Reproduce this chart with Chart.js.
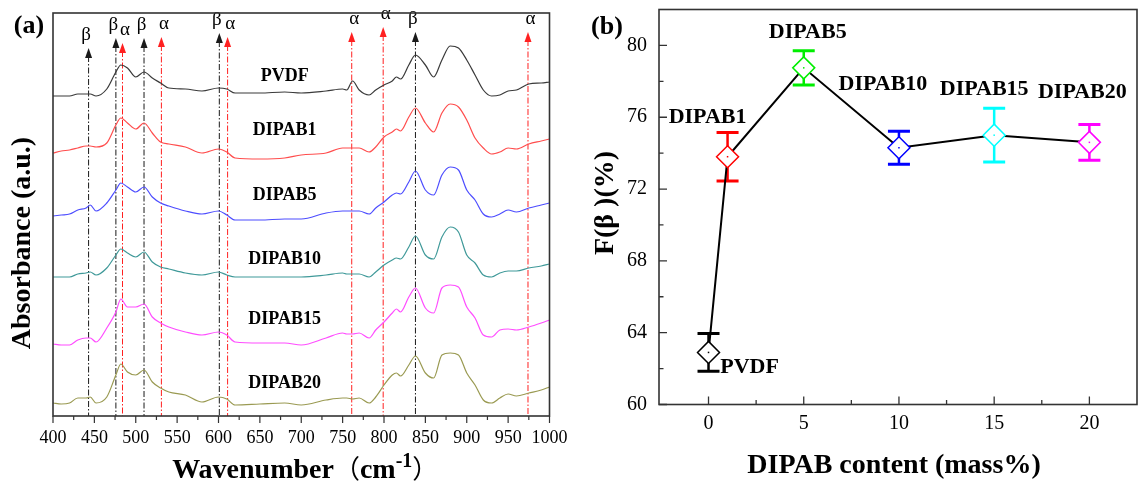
<!DOCTYPE html>
<html>
<head>
<meta charset="utf-8">
<script src="https://cdn.jsdelivr.net/npm/chart.js@4.4.1/dist/chart.umd.min.js"></script>
<style>
  html, body { margin: 0; padding: 0; background: #fff; }
  body { width: 1144px; height: 484px; position: relative; overflow: hidden; }
  canvas { position: absolute; top: 0; }
  #ftir { left: 0; }
  #fbeta { left: 572px; }
</style>
</head>
<body>
<canvas id="ftir" width="572" height="484"></canvas>
<canvas id="fbeta" width="572" height="484"></canvas>
<script>
// === (a) FTIR spectra, absorbance (a.u., stacked) ===
const wavenumbers = [400, 410, 420, 430, 440, 445, 452, 465, 476, 482, 490, 500, 510, 520, 530, 540,
  560, 580, 600, 610, 620, 650, 680, 700, 730, 750, 755, 762, 770, 782, 790, 800,
  810, 815, 820, 830, 838, 850, 860, 870, 880, 890, 900, 910, 920, 930, 940, 950,
  960, 975, 990, 1000];

const specPVDF = [3.20, 3.20, 3.20, 3.22, 3.22, 3.22, 3.20, 3.27, 3.44, 3.51, 3.48, 3.39, 3.44, 3.38, 3.33, 3.28,
  3.27, 3.25, 3.28, 3.27, 3.23, 3.23, 3.24, 3.23, 3.25, 3.27, 3.26, 3.35, 3.26, 3.21, 3.26, 3.31,
  3.35, 3.39, 3.37, 3.51, 3.61, 3.51, 3.39, 3.56, 3.70, 3.68, 3.56, 3.41, 3.26, 3.20, 3.21, 3.25,
  3.26, 3.32, 3.33, 3.34];
const specDIPAB1 = [2.63, 2.65, 2.66, 2.68, 2.70, 2.70, 2.69, 2.73, 2.91, 2.98, 2.93, 2.87, 2.93, 2.83, 2.74, 2.72,
  2.69, 2.63, 2.67, 2.64, 2.58, 2.57, 2.58, 2.61, 2.63, 2.68, 2.68, 2.68, 2.68, 2.64, 2.69, 2.79,
  2.84, 2.87, 2.85, 2.99, 3.08, 2.93, 2.84, 3.03, 3.12, 3.09, 2.96, 2.78, 2.68, 2.62, 2.64, 2.68,
  2.67, 2.72, 2.75, 2.77];
const specDIPAB5 = [2.00, 2.01, 2.02, 2.06, 2.08, 2.11, 2.05, 2.13, 2.26, 2.33, 2.29, 2.24, 2.29, 2.19, 2.13, 2.10,
  2.05, 2.02, 2.05, 2.01, 1.96, 1.96, 1.97, 1.97, 2.03, 2.05, 2.05, 2.05, 2.05, 2.02, 2.08, 2.14,
  2.21, 2.23, 2.22, 2.34, 2.45, 2.26, 2.21, 2.41, 2.49, 2.46, 2.26, 2.16, 2.02, 1.99, 2.02, 2.06,
  2.04, 2.08, 2.11, 2.13];
const specDIPAB10 = [1.39, 1.39, 1.39, 1.42, 1.43, 1.44, 1.41, 1.48, 1.61, 1.67, 1.63, 1.59, 1.64, 1.54, 1.49, 1.47,
  1.43, 1.41, 1.44, 1.41, 1.39, 1.39, 1.39, 1.39, 1.41, 1.43, 1.42, 1.42, 1.42, 1.39, 1.44, 1.51,
  1.56, 1.58, 1.57, 1.69, 1.80, 1.61, 1.57, 1.79, 1.89, 1.84, 1.61, 1.53, 1.41, 1.39, 1.43, 1.45,
  1.45, 1.48, 1.50, 1.52];
const specDIPAB15 = [0.72, 0.71, 0.71, 0.76, 0.78, 0.78, 0.74, 0.88, 1.04, 1.17, 1.09, 1.09, 1.12, 0.99, 0.93, 0.89,
  0.84, 0.81, 0.84, 0.81, 0.74, 0.73, 0.73, 0.71, 0.78, 0.83, 0.82, 0.82, 0.83, 0.78, 0.86, 0.94,
  1.03, 1.07, 1.04, 1.19, 1.28, 1.08, 1.03, 1.28, 1.31, 1.29, 1.09, 0.98, 0.81, 0.79, 0.86, 0.87,
  0.86, 0.89, 0.93, 0.96];
const specDIPAB20 = [0.13, 0.12, 0.13, 0.18, 0.18, 0.19, 0.13, 0.19, 0.41, 0.52, 0.44, 0.41, 0.46, 0.34, 0.28, 0.24,
  0.21, 0.14, 0.19, 0.17, 0.11, 0.12, 0.13, 0.11, 0.16, 0.18, 0.18, 0.17, 0.18, 0.13, 0.19, 0.31,
  0.41, 0.43, 0.40, 0.51, 0.60, 0.43, 0.38, 0.61, 0.63, 0.61, 0.43, 0.31, 0.16, 0.13, 0.18, 0.22,
  0.20, 0.23, 0.26, 0.29];

const specNames = ['PVDF', 'DIPAB1', 'DIPAB5', 'DIPAB10', 'DIPAB15', 'DIPAB20'];

// characteristic bands (cm-1) and phase
const bandWn = [443, 476, 484, 510, 531, 601, 611, 761, 799, 838, 974];
const bandPhase = ['β', 'β', 'α', 'β', 'α', 'β', 'α', 'α', 'α', 'β', 'α'];

const wnTicks = [400, 450, 500, 550, 600, 650, 700, 750, 800, 850, 900, 950, 1000];

// === (b) beta fraction ===
const samples = ['PVDF', 'DIPAB1', 'DIPAB5', 'DIPAB10', 'DIPAB15', 'DIPAB20'];
const dipabContent = [0, 1, 5, 10, 15, 20];
const fBeta = [62.9, 73.8, 78.75, 74.3, 75.0, 74.6];
const fBetaErr = [1.05, 1.35, 0.95, 0.92, 1.5, 1.0];
const contentTicks = [0, 5, 10, 15, 20];
const fBetaTicks = [60, 64, 68, 72, 76, 80];

// --- styles ---
const SERIF = '"Liberation Serif", "Times New Roman", serif';
const CJK = '"Noto Sans CJK SC", sans-serif';
const specColors = ['#3a3a3a', '#ff4d4d', '#4d4dff', '#3f9999', '#ff4dff', '#9a9a52'];
const sampleColors = ['#000000', '#ff0000', '#00ee00', '#0000ff', '#00ffff', '#ff00ff'];
// arrow tip height (a.u.) above each band line
const bandArrowTop = [3.68, 3.78, 3.73, 3.78, 3.79, 3.83, 3.79, 3.84, 3.89, 3.84, 3.84];
const specLabelAt = { wn: 680, y: [3.40, 2.86, 2.21, 1.57, 0.97, 0.33] };
// label offsets (px) from each point in (b)
const sampleLabelOffset = [[41, 15], [-20, -39], [4, -36], [-16, -63], [-10, -46], [-7, -50]];

function midpoints(arr) {
  const out = [];
  for (let i = 0; i < arr.length - 1; i++) out.push((arr[i] + arr[i + 1]) / 2);
  return out;
}

function frame(ctx, a, w) {
  ctx.save();
  ctx.strokeStyle = '#333';
  ctx.lineWidth = w;
  ctx.strokeRect(a.left, a.top, a.right - a.left, a.bottom - a.top);
  ctx.restore();
}

// fixed axis boxes so the plot area sits where the figure has it
function fixX(h) {
  return s => { s.height = h; s.paddingLeft = 0; s.paddingRight = 0; };
}
function fixY(w) {
  return s => { s.width = w; s.paddingTop = 0; s.paddingBottom = 0; };
}

// ---------- panel (a) decorations ----------
const ftirDecor = {
  id: 'ftirDecor',
  beforeDatasetsDraw(chart) {
    const { ctx, chartArea: a } = chart;
    const xs = chart.scales.x, ys = chart.scales.y;
    ctx.save();
    bandWn.forEach((w, i) => {
      const px = xs.getPixelForValue(w);
      const top = ys.getPixelForValue(bandArrowTop[i]);
      const col = bandPhase[i] === 'α' ? '#ff2020' : '#1a1a1a';
      ctx.strokeStyle = col;
      ctx.lineWidth = 1;
      ctx.setLineDash([6, 2, 1.5, 2]);
      ctx.beginPath();
      ctx.moveTo(px, top + 8);
      ctx.lineTo(px, a.bottom);
      ctx.stroke();
      ctx.setLineDash([]);
      ctx.fillStyle = col;
      ctx.beginPath();
      ctx.moveTo(px, top);
      ctx.lineTo(px - 3.5, top + 10);
      ctx.lineTo(px + 3.5, top + 10);
      ctx.closePath();
      ctx.fill();
      ctx.fillStyle = '#000';
      ctx.font = '19px ' + SERIF;
      ctx.textAlign = 'center';
      ctx.textBaseline = 'alphabetic';
      ctx.fillText(bandPhase[i], px + (bandPhase[i] === 'α' ? 2.5 : -2.5), top - 8);
    });
    ctx.restore();
  },
  afterDraw(chart) {
    const { ctx, chartArea: a } = chart;
    const xs = chart.scales.x, ys = chart.scales.y;
    frame(ctx, a, 1.6);
    ctx.save();
    // ticks (outward)
    ctx.strokeStyle = '#333';
    ctx.lineWidth = 1.2;
    ctx.beginPath();
    wnTicks.forEach(v => { const p = xs.getPixelForValue(v); ctx.moveTo(p, a.bottom); ctx.lineTo(p, a.bottom + 7); });
    midpoints(wnTicks).forEach(v => { const p = xs.getPixelForValue(v); ctx.moveTo(p, a.bottom); ctx.lineTo(p, a.bottom + 4); });
    ctx.stroke();

    // sample names
    ctx.fillStyle = '#000';
    ctx.font = 'bold 18px ' + SERIF;
    ctx.textAlign = 'center';
    ctx.textBaseline = 'middle';
    specNames.forEach((n, i) => {
      ctx.fillText(n, xs.getPixelForValue(specLabelAt.wn), ys.getPixelForValue(specLabelAt.y[i]));
    });

    // panel tag
    ctx.font = 'bold 26px ' + SERIF;
    ctx.fillText('(a)', 29, 26);

    // y title
    ctx.save();
    ctx.translate(23, 243);
    ctx.rotate(-Math.PI / 2);
    ctx.font = 'bold 28px ' + SERIF;
    ctx.fillText('Absorbance (a.u.)', 0, 0);
    ctx.restore();

    // x title with superscript
    const parts = [
      { t: 'Wavenumber', f: 'bold 28px ' + SERIF, dy: 0 },
      { t: '（', f: '26px ' + CJK, dy: 0 },
      { t: 'cm', f: 'bold 28px ' + SERIF, dy: 0 },
      { t: '-1', f: 'bold 20px ' + SERIF, dy: -11 },
      { t: '）', f: '26px ' + CJK, dy: 0 }
    ];
    let total = 0;
    parts.forEach(p => { ctx.font = p.f; p.w = ctx.measureText(p.t).width; total += p.w; });
    let x = (a.left + a.right) / 2 + 4 - total / 2;
    ctx.textAlign = 'left';
    ctx.textBaseline = 'alphabetic';
    parts.forEach(p => { ctx.font = p.f; ctx.fillText(p.t, x, 478 + p.dy); x += p.w; });
    ctx.restore();
  }
};

new Chart(document.getElementById('ftir'), {
  type: 'line',
  data: {
    datasets: [specPVDF, specDIPAB1, specDIPAB5, specDIPAB10, specDIPAB15, specDIPAB20].map((s, i) => ({
      label: specNames[i],
      data: wavenumbers.map((w, j) => ({ x: w, y: s[j] })),
      borderColor: specColors[i],
      borderWidth: 1.2,
      pointRadius: 0,
      cubicInterpolationMode: 'monotone',
      fill: false
    }))
  },
  options: {
    responsive: false,
    animation: false,
    layout: { autoPadding: false, padding: { left: 53, top: 13, right: 22.5, bottom: 28 } },
    plugins: { legend: { display: false }, tooltip: { enabled: false } },
    scales: {
      x: {
        type: 'linear', min: 400, max: 1000,
        afterBuildTicks: s => { s.ticks = wnTicks.map(v => ({ value: v })); },
        afterFit: fixX(40),
        grid: { display: false, drawTicks: false },
        border: { display: false },
        ticks: { font: { family: SERIF, size: 18 }, color: '#000', padding: 11, maxRotation: 0, autoSkip: false,
          callback: v => String(v) }
      },
      y: { display: false, min: 0, max: 4.03 }
    }
  },
  plugins: [ftirDecor]
});

// ---------- panel (b) decorations ----------
const fbetaDecor = {
  id: 'fbetaDecor',
  beforeDatasetsDraw(chart) {
    const { ctx } = chart;
    const xs = chart.scales.x, ys = chart.scales.y;
    ctx.save();
    dipabContent.forEach((c, i) => {
      const px = xs.getPixelForValue(c);
      const hi = ys.getPixelForValue(fBeta[i] + fBetaErr[i]);
      const lo = ys.getPixelForValue(fBeta[i] - fBetaErr[i]);
      ctx.strokeStyle = sampleColors[i];
      ctx.lineWidth = 2.5;
      ctx.beginPath();
      ctx.moveTo(px, hi); ctx.lineTo(px, lo);
      ctx.stroke();
      ctx.lineWidth = 3;
      ctx.beginPath();
      ctx.moveTo(px - 11, hi); ctx.lineTo(px + 11, hi);
      ctx.moveTo(px - 11, lo); ctx.lineTo(px + 11, lo);
      ctx.stroke();
    });
    ctx.restore();
  },
  afterDatasetsDraw(chart) {
    const { ctx } = chart;
    const xs = chart.scales.x, ys = chart.scales.y;
    ctx.save();
    dipabContent.forEach((c, i) => {
      const px = xs.getPixelForValue(c), py = ys.getPixelForValue(fBeta[i]);
      ctx.fillStyle = sampleColors[i];
      ctx.fillRect(px - 0.75, py - 0.75, 1.5, 1.5);
      ctx.fillStyle = '#000';
      ctx.font = 'bold 22px ' + SERIF;
      ctx.textAlign = 'center';
      ctx.textBaseline = 'middle';
      ctx.fillText(samples[i], px + sampleLabelOffset[i][0], py + sampleLabelOffset[i][1]);
    });
    ctx.restore();
  },
  afterDraw(chart) {
    const { ctx, chartArea: a } = chart;
    const xs = chart.scales.x, ys = chart.scales.y;
    frame(ctx, a, 1.6);
    ctx.save();
    ctx.strokeStyle = '#333';
    ctx.lineWidth = 1.3;
    ctx.beginPath();
    contentTicks.forEach(v => { const p = xs.getPixelForValue(v); ctx.moveTo(p, a.bottom); ctx.lineTo(p, a.bottom - 8); });
    midpoints(contentTicks).forEach(v => { const p = xs.getPixelForValue(v); ctx.moveTo(p, a.bottom); ctx.lineTo(p, a.bottom - 4.5); });
    fBetaTicks.forEach(v => { const p = ys.getPixelForValue(v); ctx.moveTo(a.left, p); ctx.lineTo(a.left + 8, p); });
    midpoints(fBetaTicks).forEach(v => { const p = ys.getPixelForValue(v); ctx.moveTo(a.left, p); ctx.lineTo(a.left + 4.5, p); });
    ctx.stroke();

    ctx.fillStyle = '#000';
    ctx.textAlign = 'center';
    ctx.textBaseline = 'middle';
    ctx.font = 'bold 26px ' + SERIF;
    ctx.fillText('(b)', 35, 27);

    ctx.save();
    ctx.translate(34, 203);
    ctx.rotate(-Math.PI / 2);
    ctx.font = 'bold 28px ' + SERIF;
    ctx.fillText('F(β )(%)', 0, 0);
    ctx.restore();

    ctx.font = 'bold 28px ' + SERIF;
    ctx.textBaseline = 'alphabetic';
    ctx.fillText('DIPAB content (mass%)', 322, 473);
    ctx.restore();
  }
};

new Chart(document.getElementById('fbeta'), {
  type: 'line',
  data: {
    datasets: [{
      label: 'F(β)',
      data: dipabContent.map((c, i) => ({ x: c, y: fBeta[i] })),
      borderColor: '#000',
      borderWidth: 2,
      pointStyle: 'rectRot',
      pointRadius: 11,
      pointBorderColor: sampleColors,
      pointBackgroundColor: '#fff',
      pointBorderWidth: 1.5,
      tension: 0,
      clip: false
    }]
  },
  options: {
    responsive: false,
    animation: false,
    layout: { autoPadding: false, padding: { left: 0, top: 9.5, right: 7, bottom: 39.5 } },
    plugins: { legend: { display: false }, tooltip: { enabled: false } },
    scales: {
      x: {
        type: 'linear', min: -2.6, max: 22.5,
        afterBuildTicks: s => { s.ticks = contentTicks.map(v => ({ value: v })); },
        afterFit: fixX(40),
        grid: { display: false, drawTicks: false },
        border: { display: false },
        ticks: { font: { family: SERIF, size: 20 }, color: '#000', padding: 7, maxRotation: 0 }
      },
      y: {
        min: 60, max: 82,
        afterBuildTicks: s => { s.ticks = fBetaTicks.map(v => ({ value: v })); },
        afterFit: fixY(87),
        grid: { display: false, drawTicks: false },
        border: { display: false },
        ticks: { font: { family: SERIF, size: 20 }, color: '#000', padding: 12 }
      }
    }
  },
  plugins: [fbetaDecor]
});
</script>
</body>
</html>
